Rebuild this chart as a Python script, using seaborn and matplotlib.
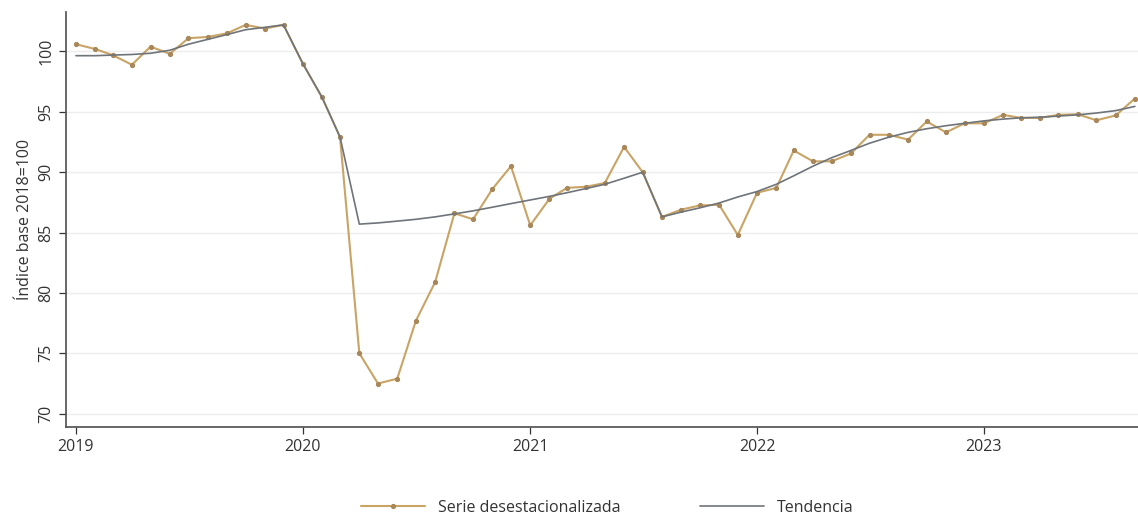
import pandas as pd
import seaborn as sns
import matplotlib.pyplot as plt
import matplotlib.dates as mdates

# monthly, Jan 2019 - Sep 2023
fechas = pd.date_range("2019-01-01", "2023-09-01", freq="MS")

serie = [100.6, 100.2, 99.7, 98.9, 100.4, 99.8, 101.1, 101.2, 101.5, 102.2, 101.9, 102.2,
         99.0, 96.2, 92.9, 75.0, 72.5, 72.9, 77.7, 80.9, 86.6, 86.1, 88.6, 90.5,
         85.6, 87.8, 88.7, 88.8, 89.1, 92.1, 90.0, 86.3, 86.9, 87.25, 87.3, 84.8,
         88.3, 88.7, 91.8, 90.9, 90.9, 91.55, 93.1, 93.1, 92.7, 94.2, 93.3, 94.05,
         94.05, 94.75, 94.5, 94.5, 94.75, 94.8, 94.3, 94.7, 96.1]

tendencia = [99.65, 99.65, 99.7, 99.75, 99.85, 100.1, 100.6, 101.0, 101.4, 101.8, 102.0, 102.2,
             99.0, 96.2, 92.9, 85.7, 85.8, 85.95, 86.1, 86.3, 86.55, 86.8, 87.1, 87.4,
             87.7, 88.0, 88.3, 88.65, 89.0, 89.5, 90.0, 86.3, 86.7, 87.05, 87.45, 87.95,
             88.4, 89.0, 89.7, 90.5, 91.2, 91.8, 92.4, 92.9, 93.3, 93.6, 93.85, 94.05,
             94.25, 94.4, 94.5, 94.55, 94.65, 94.75, 94.9, 95.1, 95.45]

df = pd.DataFrame({"fecha": fechas, "serie": serie, "tendencia": tendencia})

sns.set_theme(style="white")
plt.rcParams["font.family"] = ["Open Sans", "DejaVu Sans"]

fig = plt.figure(figsize=(11.38, 5.16), dpi=100)
ax = fig.add_axes([0.058, 0.1725, 0.942, 0.805])

sns.lineplot(data=df, x="fecha", y="serie", ax=ax, color="#C9A465", lw=1.5,
             marker="o", markersize=3, markerfacecolor="#A8875A",
             markeredgecolor="#A8875A", label="Serie desestacionalizada", zorder=3)
sns.lineplot(data=df, x="fecha", y="tendencia", ax=ax, color="#6F747A", lw=1.2,
             label="Tendencia", zorder=4)

ax.set_ylim(68.9, 103.3)
ax.set_xlim(pd.Timestamp("2018-12-16"), pd.Timestamp("2023-09-06"))
ax.set_yticks([70, 75, 80, 85, 90, 95, 100])
ax.grid(axis="y", color="#EDEDED", lw=1)
ax.xaxis.set_major_locator(mdates.YearLocator())
ax.xaxis.set_major_formatter(mdates.DateFormatter("%Y"))

for lbl in ax.get_yticklabels():
    lbl.set_rotation(90)
    lbl.set_va("center")
ax.tick_params(axis="both", colors="#333333", labelsize=11.5, length=5, width=0.9,
               direction="out", left=True, bottom=True)
ax.set_xlabel("")
ax.set_ylabel("Índice base 2018=100", fontsize=11.5, color="#333333")

sns.despine(ax=ax)
ax.spines["left"].set_color("#555555")
ax.spines["bottom"].set_color("#555555")

ax.legend(loc="center", bbox_to_anchor=(0.505, -0.195), ncol=2, frameon=False,
          fontsize=11.5, handlelength=4, columnspacing=5, labelcolor="#333333")

fig.savefig("out.png", dpi=100)
